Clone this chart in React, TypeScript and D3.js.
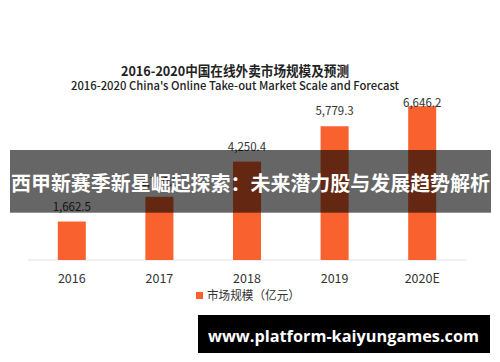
import React, { useRef, useEffect } from "react";
import * as d3 from "d3";

const years = ["2016", "2017", "2018", "2019", "2020E"];
const marketScale = [1662.5, 2730, 4250.4, 5779.3, 6646.2];
const valueLabels = ["1,662.5", "2,730.0", "4,250.4", "5,779.3", "6,646.2"];
const titleCn = "2016-2020中国在线外卖市场规模及预测";
const titleEn = "2016-2020 China's Online Take-out Market Scale and Forecast";
const legendLabel = "市场规模（亿元）";
const bannerText = "西甲新赛季新星崛起探索：未来潜力股与发展趋势解析";
const watermarkText = "www.platform-kaiyungames.com";

const W = 500;
const H = 362;
const FONT = "'Noto Sans CJK SC', 'Noto Sans', sans-serif";

const App: React.FC = () => {
  const svgRef = useRef<SVGSVGElement | null>(null);

  useEffect(() => {
    const svg = d3.select(svgRef.current);
    svg.selectAll("*").remove();

    svg.append("rect").attr("width", W).attr("height", H).attr("fill", "#fff");

    // titles
    svg
      .append("text")
      .attr("x", 235)
      .attr("y", 75.5)
      .attr("text-anchor", "middle")
      .attr("font-family", FONT)
      .attr("font-size", 13.5)
      .attr("font-weight", "bold")
      .attr("fill", "#222")
      .attr("textLength", 228)
      .attr("lengthAdjust", "spacingAndGlyphs")
      .text(titleCn);

    svg
      .append("text")
      .attr("x", 235)
      .attr("y", 89.5)
      .attr("text-anchor", "middle")
      .attr("font-family", FONT)
      .attr("font-size", 11.5)
      .attr("font-weight", 500)
      .attr("fill", "#222")
      .attr("textLength", 328)
      .attr("lengthAdjust", "spacingAndGlyphs")
      .text(titleEn);

    const x = d3
      .scaleBand()
      .domain(years)
      .range([28, 466])
      .paddingInner(0.68)
      .paddingOuter(0.34);

    const y = d3.scaleLinear().domain([0, 7000]).range([260, 98]);

    // baseline
    svg
      .append("line")
      .attr("x1", 28)
      .attr("x2", 466)
      .attr("y1", y(0))
      .attr("y2", y(0))
      .attr("stroke", "#e2e2e2")
      .attr("stroke-width", 1);

    // bars
    svg
      .selectAll("rect.bar")
      .data(marketScale)
      .enter()
      .append("rect")
      .attr("class", "bar")
      .attr("x", (_, i) => x(years[i])!)
      .attr("y", (d) => y(d))
      .attr("width", x.bandwidth())
      .attr("height", (d) => y(0) - y(d))
      .attr("fill", "#f9622f");

    // value labels (the top one gets squeezed against the plot top)
    svg
      .selectAll("text.val")
      .data(marketScale)
      .enter()
      .append("text")
      .attr("class", "val")
      .attr("x", (_, i) => x(years[i])! + x.bandwidth() / 2)
      .attr("y", (d) => Math.max(y(d) - 11, 106.5))
      .attr("text-anchor", "middle")
      .attr("font-family", FONT)
      .attr("font-size", 11.5)
      .attr("fill", "#333")
      .text((_, i) => valueLabels[i]);

    // category labels
    svg
      .selectAll("text.cat")
      .data(years)
      .enter()
      .append("text")
      .attr("class", "cat")
      .attr("x", (d) => x(d)! + x.bandwidth() / 2)
      .attr("y", 282.5)
      .attr("text-anchor", "middle")
      .attr("font-family", FONT)
      .attr("font-size", 12.5)
      .attr("fill", "#333")
      .text((d) => d);

    // legend
    svg
      .append("rect")
      .attr("x", 196)
      .attr("y", 292)
      .attr("width", 7)
      .attr("height", 7)
      .attr("fill", "#f9622f");
    svg
      .append("text")
      .attr("x", 207)
      .attr("y", 300)
      .attr("font-family", FONT)
      .attr("font-size", 12)
      .attr("fill", "#333")
      .attr("textLength", 93)
      .attr("lengthAdjust", "spacingAndGlyphs")
      .text(legendLabel);

    // overlay banner
    svg
      .append("rect")
      .attr("x", 10)
      .attr("y", 150)
      .attr("width", 481)
      .attr("height", 62.7)
      .attr("fill", "rgba(0,0,0,0.6)");
    svg
      .append("text")
      .attr("x", 250.5)
      .attr("y", 190.5)
      .attr("text-anchor", "middle")
      .attr("font-family", FONT)
      .attr("font-size", 20)
      .attr("font-weight", "bold")
      .attr("fill", "#fff")
      .attr("textLength", 479)
      .attr("lengthAdjust", "spacingAndGlyphs")
      .text(bannerText);

    // watermark
    svg
      .append("rect")
      .attr("x", 198)
      .attr("y", 315)
      .attr("width", 292)
      .attr("height", 38)
      .attr("fill", "#000");
    svg
      .append("text")
      .attr("x", 343.5)
      .attr("y", 342)
      .attr("text-anchor", "middle")
      .attr("font-family", "'Open Sans', 'Noto Sans', sans-serif")
      .attr("font-size", 16)
      .attr("font-weight", "bold")
      .attr("fill", "#fff")
      .attr("textLength", 271)
      .attr("lengthAdjust", "spacingAndGlyphs")
      .text(watermarkText);
  }, []);

  return (
    <svg
      ref={svgRef}
      width={W}
      height={H}
      style={{ position: "absolute", left: 0, top: 0, display: "block" }}
    ></svg>
  );
};

export default App;
